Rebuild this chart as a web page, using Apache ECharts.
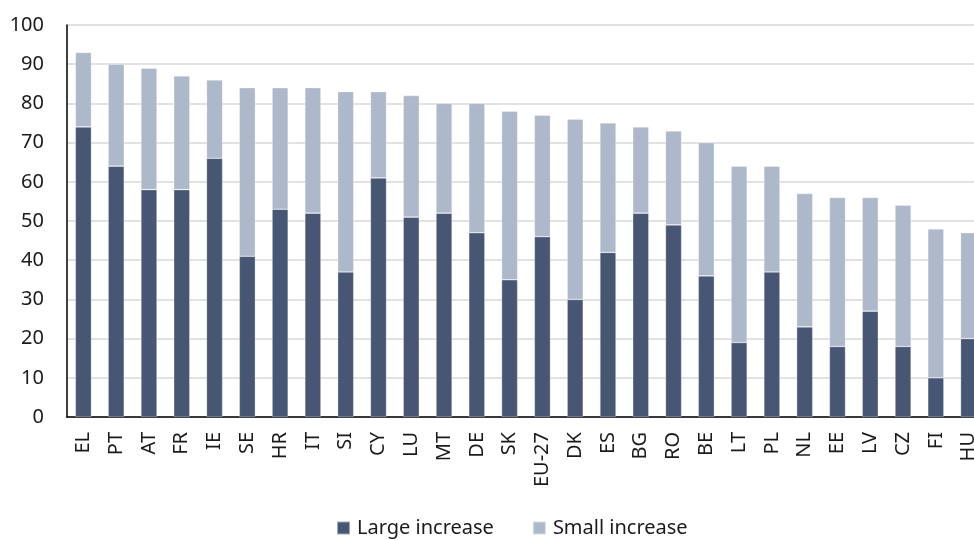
<!DOCTYPE html>
<html>
<head>
<meta charset="utf-8">
<script src="https://cdn.jsdelivr.net/npm/echarts@6/dist/echarts.min.js"></script>
<style>
  html, body { margin: 0; padding: 0; background: #fff; overflow: hidden; }
  /* canvas is a little wider than the view so the last bar is clipped at the edge */
  #chart { width: 990px; height: 540px; }
</style>
</head>
<body>
<div id="chart"></div>
<script>
// Member states, ordered by total share
const categories = ['EL', 'PT', 'AT', 'FR', 'IE', 'SE', 'HR', 'IT', 'SI', 'CY', 'LU', 'MT', 'DE', 'SK',
  'EU-27', 'DK', 'ES', 'BG', 'RO', 'BE', 'LT', 'PL', 'NL', 'EE', 'LV', 'CZ', 'FI', 'HU'];

// Share reporting a large increase
const largeIncrease = [74, 64, 58, 58, 66, 41, 53, 52, 37, 61, 51, 52, 47, 35,
  46, 30, 42, 52, 49, 36, 19, 37, 23, 18, 27, 18, 10, 20];

// Share reporting a small increase
const smallIncrease = [19, 26, 31, 29, 20, 43, 31, 32, 46, 22, 31, 28, 33, 43,
  31, 46, 33, 22, 24, 34, 45, 27, 34, 38, 29, 36, 38, 27];

const yTicks = [0, 10, 20, 30, 40, 50, 60, 70, 80, 90, 100];

const FONT = 'Noto Sans';
const TEXT = '#1a1a1a';
const chart = echarts.init(document.getElementById('chart'));

chart.setOption({
  animation: false,
  textStyle: { fontFamily: FONT },
  grid: { left: 67, top: 25, height: 392, width: 918, containLabel: false },
  legend: {
    top: 513,
    left: 331,
    itemWidth: 13,
    itemHeight: 13,
    itemGap: 38,
    icon: 'rect',
    textStyle: { fontFamily: FONT, fontSize: 20, color: TEXT, padding: [0, 0, 0, 2] },
    data: ['Large increase', 'Small increase']
  },
  xAxis: {
    type: 'category',
    data: categories,
    axisLine: { lineStyle: { color: '#000', width: 1.5 } },
    axisTick: { show: false },
    axisLabel: {
      rotate: 90,
      interval: 0,
      margin: 15,
      fontFamily: FONT,
      fontSize: 20,
      color: TEXT
    }
  },
  yAxis: {
    type: 'value',
    min: yTicks[0],
    max: yTicks[yTicks.length - 1],
    interval: 10,
    axisLine: { show: true, lineStyle: { color: '#000', width: 1.5 } },
    axisTick: { show: false },
    axisLabel: { margin: 23, fontFamily: FONT, fontSize: 20, color: TEXT },
    splitLine: { lineStyle: { color: '#d9d9d9', width: 1.5 } }
  },
  series: [
    {
      name: 'Large increase',
      type: 'bar',
      stack: 'total',
      barWidth: '49%',
      data: largeIncrease,
      itemStyle: { color: '#465673', borderColor: 'rgba(255,255,255,0.5)', borderWidth: 0.6 }
    },
    {
      name: 'Small increase',
      type: 'bar',
      stack: 'total',
      barWidth: '49%',
      data: smallIncrease,
      itemStyle: { color: '#adb8ca', borderColor: 'rgba(255,255,255,0.5)', borderWidth: 0.6 }
    }
  ]
});
</script>
</body>
</html>
